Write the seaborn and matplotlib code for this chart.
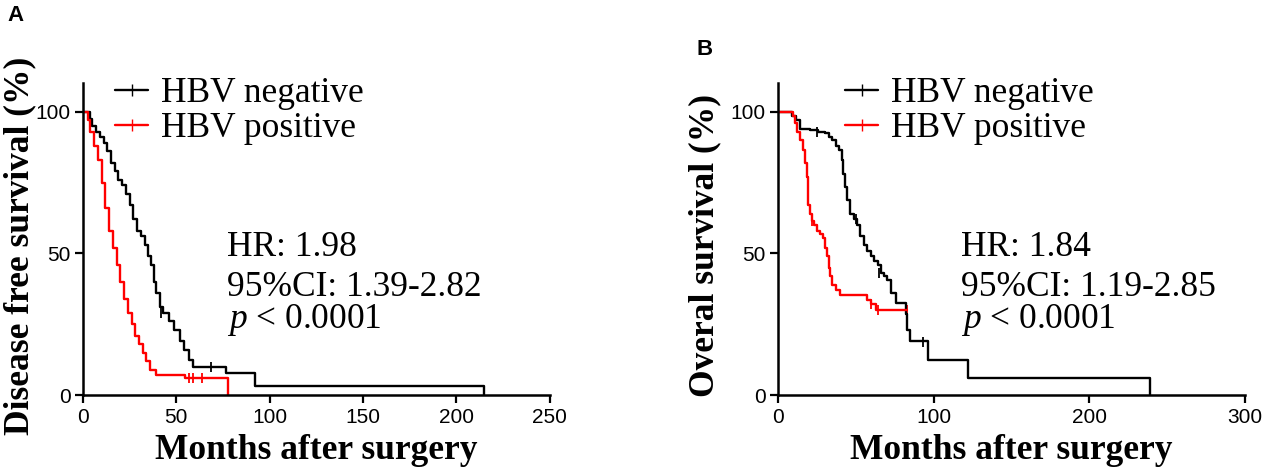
import pandas as pd
import matplotlib.pyplot as plt
import seaborn as sns
from matplotlib.lines import Line2D

# Disease free survival, HBV negative / positive (months, %)
dfs_neg_t = [0, 3.6, 5, 7, 9, 11, 13, 15, 17, 19, 21, 23, 25, 27, 29, 31, 33, 35, 36.5,
             38, 39, 41, 43, 46, 49, 52, 54, 57, 59, 76.5, 92, 215]
dfs_neg_s = [100, 97.5, 95, 93, 91, 89, 86, 82, 79, 76, 74, 71, 67, 62, 58, 56, 53, 49, 46,
             40, 36, 31, 29, 26, 23, 19, 16, 12.5, 10, 7.7, 3.2, 0]
dfs_pos_t = [0, 2.7, 4, 6, 8, 10, 12, 14, 16, 18, 20, 22, 24, 26, 28, 30, 32, 34, 36, 39,
             54.5, 77.7]
dfs_pos_s = [100, 97, 93, 88, 83, 75, 66, 58, 52, 46, 40, 34, 29, 25, 21, 18, 15, 12, 9, 7,
             5.9, 0]
dfs_neg_cens_t = [42, 68.5]
dfs_neg_cens_s = [29, 10]
dfs_pos_cens_t = [57, 59, 64]
dfs_pos_cens_s = [5.9, 5.9, 5.9]

# Overall survival
os_neg_t = [0, 8.7, 11.9, 14, 20.6, 26, 30.3, 33, 35, 37, 39, 41, 42, 43, 44.4, 46.5, 49,
            51, 53, 55, 57, 59.5, 62, 64, 66, 68, 70.3, 72.5, 75.8, 82, 83, 85, 96.5, 122, 239]
os_neg_s = [100, 98.5, 97, 94, 93.5, 93, 92.4, 91, 90, 88, 86.5, 83, 78, 73.5, 69, 64, 62,
            60, 56, 53, 51, 49, 47.5, 46, 43, 42, 40.5, 36, 32.4, 28.5, 23, 19, 12.4, 6, 0]
os_pos_t = [0, 9.7, 11, 12.5, 14, 16.2, 17.5, 18.4, 19, 19.5, 20.5, 21.6, 23, 24.9, 27, 29.2,
            30.5, 31.4, 32.5, 33.5, 35, 37, 40, 57.4, 59.5, 62.8, 83]
os_pos_s = [100, 98.5, 96, 93, 90, 86.5, 82, 77, 72, 67, 64, 61.5, 60, 58, 57, 55.5,
            52, 49, 45, 42, 39, 37, 35.5, 33.5, 32, 30, 30]
os_neg_cens_t = [25, 50, 65, 93]
os_neg_cens_s = [93, 62, 43, 18.8]
os_pos_cens_t = [22, 60, 64, 83]
os_pos_cens_s = [61.5, 32, 30, 30]

panels = [
    dict(ax_rect=[0.0656, 0.161, 0.369, 0.662], xmax=250, xticks=[0, 50, 100, 150, 200, 250],
         ylabel='Disease free survival (%)', letter='A', letter_xy=(0.012, 0.968),
         neg=(dfs_neg_t, dfs_neg_s, dfs_neg_cens_t, dfs_neg_cens_s),
         pos=(dfs_pos_t, dfs_pos_s, dfs_pos_cens_t, dfs_pos_cens_s),
         stats=['HR: 1.98', '95%CI: 1.39-2.82'], text_x=0.309, leg_x=0.068, ylab_x=-0.135),
    dict(ax_rect=[0.615, 0.161, 0.369, 0.662], xmax=300, xticks=[0, 100, 200, 300],
         ylabel='Overal survival (%)', letter='B', letter_xy=(0.557, 0.894),
         neg=(os_neg_t, os_neg_s, os_neg_cens_t, os_neg_cens_s),
         pos=(os_pos_t, os_pos_s, os_pos_cens_t, os_pos_cens_s),
         stats=['HR: 1.84', '95%CI: 1.19-2.85'], text_x=0.392, leg_x=0.143, ylab_x=-0.156),
]

sns.set_style('ticks')
plt.rcParams['font.family'] = ['Liberation Serif', 'DejaVu Serif']
plt.rcParams['mathtext.fontset'] = 'custom'
plt.rcParams['mathtext.it'] = 'Liberation Serif:italic'
plt.rcParams['mathtext.rm'] = 'Liberation Serif'
for k in ['text.color', 'axes.labelcolor', 'xtick.color', 'ytick.color']:
    plt.rcParams[k] = 'black'

fig = plt.figure(figsize=(12.65, 4.71), dpi=100)
big = 25.5

for p in panels:
    ax = fig.add_axes(p['ax_rect'])
    for key, col in [('neg', 'black'), ('pos', '#ff0000')]:
        t, s, ct, cs = p[key]
        sns.lineplot(x=t, y=s, drawstyle='steps-post', color=col, linewidth=1.7,
                     estimator=None, sort=False, ax=ax)
        sns.scatterplot(x=ct, y=cs, marker='|', s=60, color=col, linewidth=1.3, ax=ax)
    ax.set_xlim(0, p['xmax'])
    ax.set_ylim(0, 110)
    ax.set_xticks(p['xticks'])
    ax.set_yticks([0, 50, 100])
    for lab in ax.get_xticklabels() + ax.get_yticklabels():
        lab.set_fontfamily('Liberation Sans')
        lab.set_fontsize(15)
    ax.tick_params(direction='out', length=6, width=1.6, color='black', pad=3)
    for side in ['left', 'bottom']:
        ax.spines[side].set_linewidth(1.8)
        ax.spines[side].set_color('black')
    sns.despine(ax=ax)

    ax.set_xlabel('Months after surgery', fontsize=big, fontweight='bold')
    ax.set_ylabel(p['ylabel'], fontsize=big, fontweight='bold')
    ax.xaxis.set_label_coords(0.5, -0.176)
    ax.xaxis.label.set_va('center')
    ax.yaxis.set_label_coords(p['ylab_x'], 0.48)
    ax.yaxis.label.set_va('center')

    ax.text(p['text_x'], 0.474, p['stats'][0], transform=ax.transAxes, fontsize=big, va='center')
    ax.text(p['text_x'], 0.346, p['stats'][1], transform=ax.transAxes, fontsize=big, va='center')
    ax.text(p['text_x'], 0.24, r'$p$ < 0.0001', transform=ax.transAxes, fontsize=big, va='center')

    handles = [Line2D([], [], color='black', lw=1.7, marker='|', markersize=8),
               Line2D([], [], color='#ff0000', lw=1.7, marker='|', markersize=8)]
    ax.legend(handles, ['HBV negative', 'HBV positive'], loc='upper left',
              bbox_to_anchor=(p['leg_x'], 1.02), frameon=False, fontsize=big,
              handlelength=0.95, handletextpad=0.35, labelspacing=0.05, borderpad=0,
              borderaxespad=0)

    fig.text(p['letter_xy'][0], p['letter_xy'][1], p['letter'], fontsize=16, fontweight='bold',
             fontfamily='Liberation Sans', ha='center', va='center')

fig.savefig('out.png', dpi=100, facecolor='white')
